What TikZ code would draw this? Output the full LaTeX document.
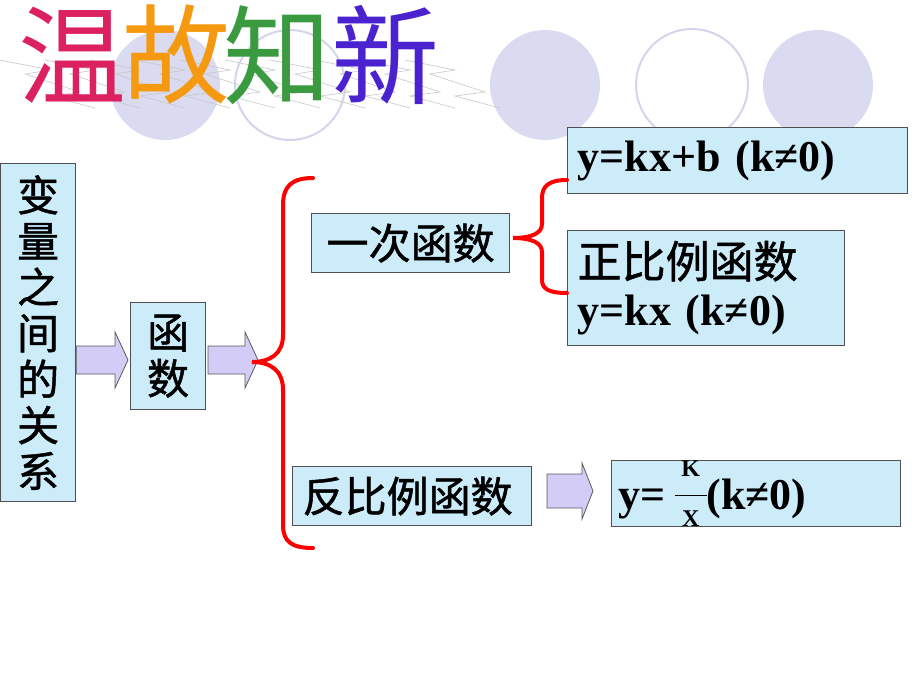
\documentclass[tikz,border=0pt]{standalone}
\usepackage{fontspec}
\setmainfont{Liberation Serif}
\newfontfamily\cjk{Noto Sans CJK SC}
\newfontfamily\cjkb[FakeBold=1.2]{Noto Sans CJK SC}
\definecolor{boxfill}{HTML}{CCECFA}
\definecolor{boxline}{HTML}{505050}
\definecolor{arrowfill}{HTML}{D2CCF6}
\definecolor{arrowline}{HTML}{5A5A5A}
\definecolor{circfill}{HTML}{DADAF0}
\definecolor{circline}{HTML}{D4D4EE}
\definecolor{bracered}{HTML}{FF0000}
\definecolor{scribble}{HTML}{C8C8C8}
\definecolor{tA}{HTML}{DC2060}
\definecolor{tB}{HTML}{F59A10}
\definecolor{tC}{HTML}{3A9A40}
\definecolor{tD}{HTML}{4A22D0}
\newcommand\fracKX{\raisebox{-17pt}{\vbox{\hbox to 32pt{\hss\fontsize{24}{24}\selectfont K\hss}\kern18pt\hrule height 1pt\kern15pt\hbox to 32pt{\hss\fontsize{24}{24}\selectfont X\hss}}}}
\begin{document}
\begin{tikzpicture}[x=1pt,y=-1pt,
 box/.style={draw=boxline, line width=1.2pt, fill=boxfill, inner sep=0pt, anchor=north west},
 cjkbox/.style={box, font=\cjkb\fontsize{42}{46}\selectfont, align=center},
 formula/.style={box, font=\bfseries\fontsize{44}{48}\selectfont, align=left},
 barrow/.style={draw=arrowline, line width=0.8pt, fill=arrowfill, line join=miter},
 brace/.style={draw=bracered, line width=4pt, line cap=round},
 titlech/.style={font=\cjk\fontsize{108}{108}\selectfont, inner sep=0pt}]
\useasboundingbox (0,0) rectangle (920,690);
% decorative circles
\fill[circfill] (165,85) circle (55);
\draw[circline, line width=2pt] (290,85) circle (55);
\fill[circfill] (545,85) circle (55);
\draw[circline, line width=2pt] (692,85) circle (56);
\fill[circfill] (818,85) circle (55);
% scribbled shadow of the title
\foreach \x in {0,45,...,405}
  \draw[scribble, line width=0.6pt] (\x,60) -- (\x+50,70) -- (\x+25,74) -- (\x+80,92) -- (\x+50,96) -- (\x+95,108);
% title
\node[titlech, text=tA] (t1) at (72,55) {温};
\node[titlech, text=tB] (t2) at (176,55) {故};
\node[titlech, text=tC] (t3) at (277,55) {知};
\node[titlech, text=tD] (t4) at (385,55) {新};
% boxes
\node[cjkbox, minimum width=75pt, minimum height=338pt] (rel) at (0,163) {变\\量\\之\\间\\的\\关\\系};
\node[cjkbox, minimum width=75pt, minimum height=107pt] (fn) at (130,302) {函\\数};
\node[cjkbox, minimum width=198pt, minimum height=59pt] (lin) at (311,213) {一次函数};
\node[formula, text width=320pt, inner xsep=10pt, minimum height=66pt] (kxb) at (567,127) {y=kx+b (k≠0)};
\node[formula, text width=257pt, inner xsep=10pt, minimum height=115pt] (prop) at (567,230) {{\cjkb\mdseries 正比例函数}\\y=kx (k≠0)};
\node[cjkbox, align=left, text width=219pt, inner xsep=10pt, minimum height=59pt] (inv) at (292,466) {反比例函数};
\node[formula, text width=275pt, inner xsep=7pt, minimum height=66pt] (invf) at (611,460) {y=\hspace{9pt}\fracKX(k≠0)};
% block arrows
\draw[barrow] (rel.east |- 0,346) -- (115,346) -- (115,332) -- (128,360) -- (115,388) -- (115,374) -- (rel.east |- 0,374) -- cycle;
\draw[barrow] (208,346) -- (245,346) -- (245,332) -- (258,360) -- (245,388) -- (245,374) -- (208,374) -- cycle;
\draw[barrow] (547,474) -- (582,474) -- (582,463) -- (593,491) -- (582,519) -- (582,508) -- (547,508) -- cycle;
% braces
\coordinate (bigtip) at (252,362);
\coordinate (smalltip) at (513,238);
\draw[brace] (313,178) .. controls (292,178) and (283,186) .. (283,205) -- (283,335)
  .. controls (283,354) and (270,362) .. (bigtip)
  .. controls (270,362) and (283,370) .. (283,390) -- (283,525)
  .. controls (283,542) and (292,548) .. (313,548);
\draw[brace] (567,180) .. controls (549,180) and (542,186) .. (542,198) -- (542,224)
  .. controls (542,233) and (532,238) .. (smalltip)
  .. controls (532,238) and (542,243) .. (542,252) -- (542,280)
  .. controls (542,289) and (549,293) .. (567,293);
\end{tikzpicture}
\end{document}
